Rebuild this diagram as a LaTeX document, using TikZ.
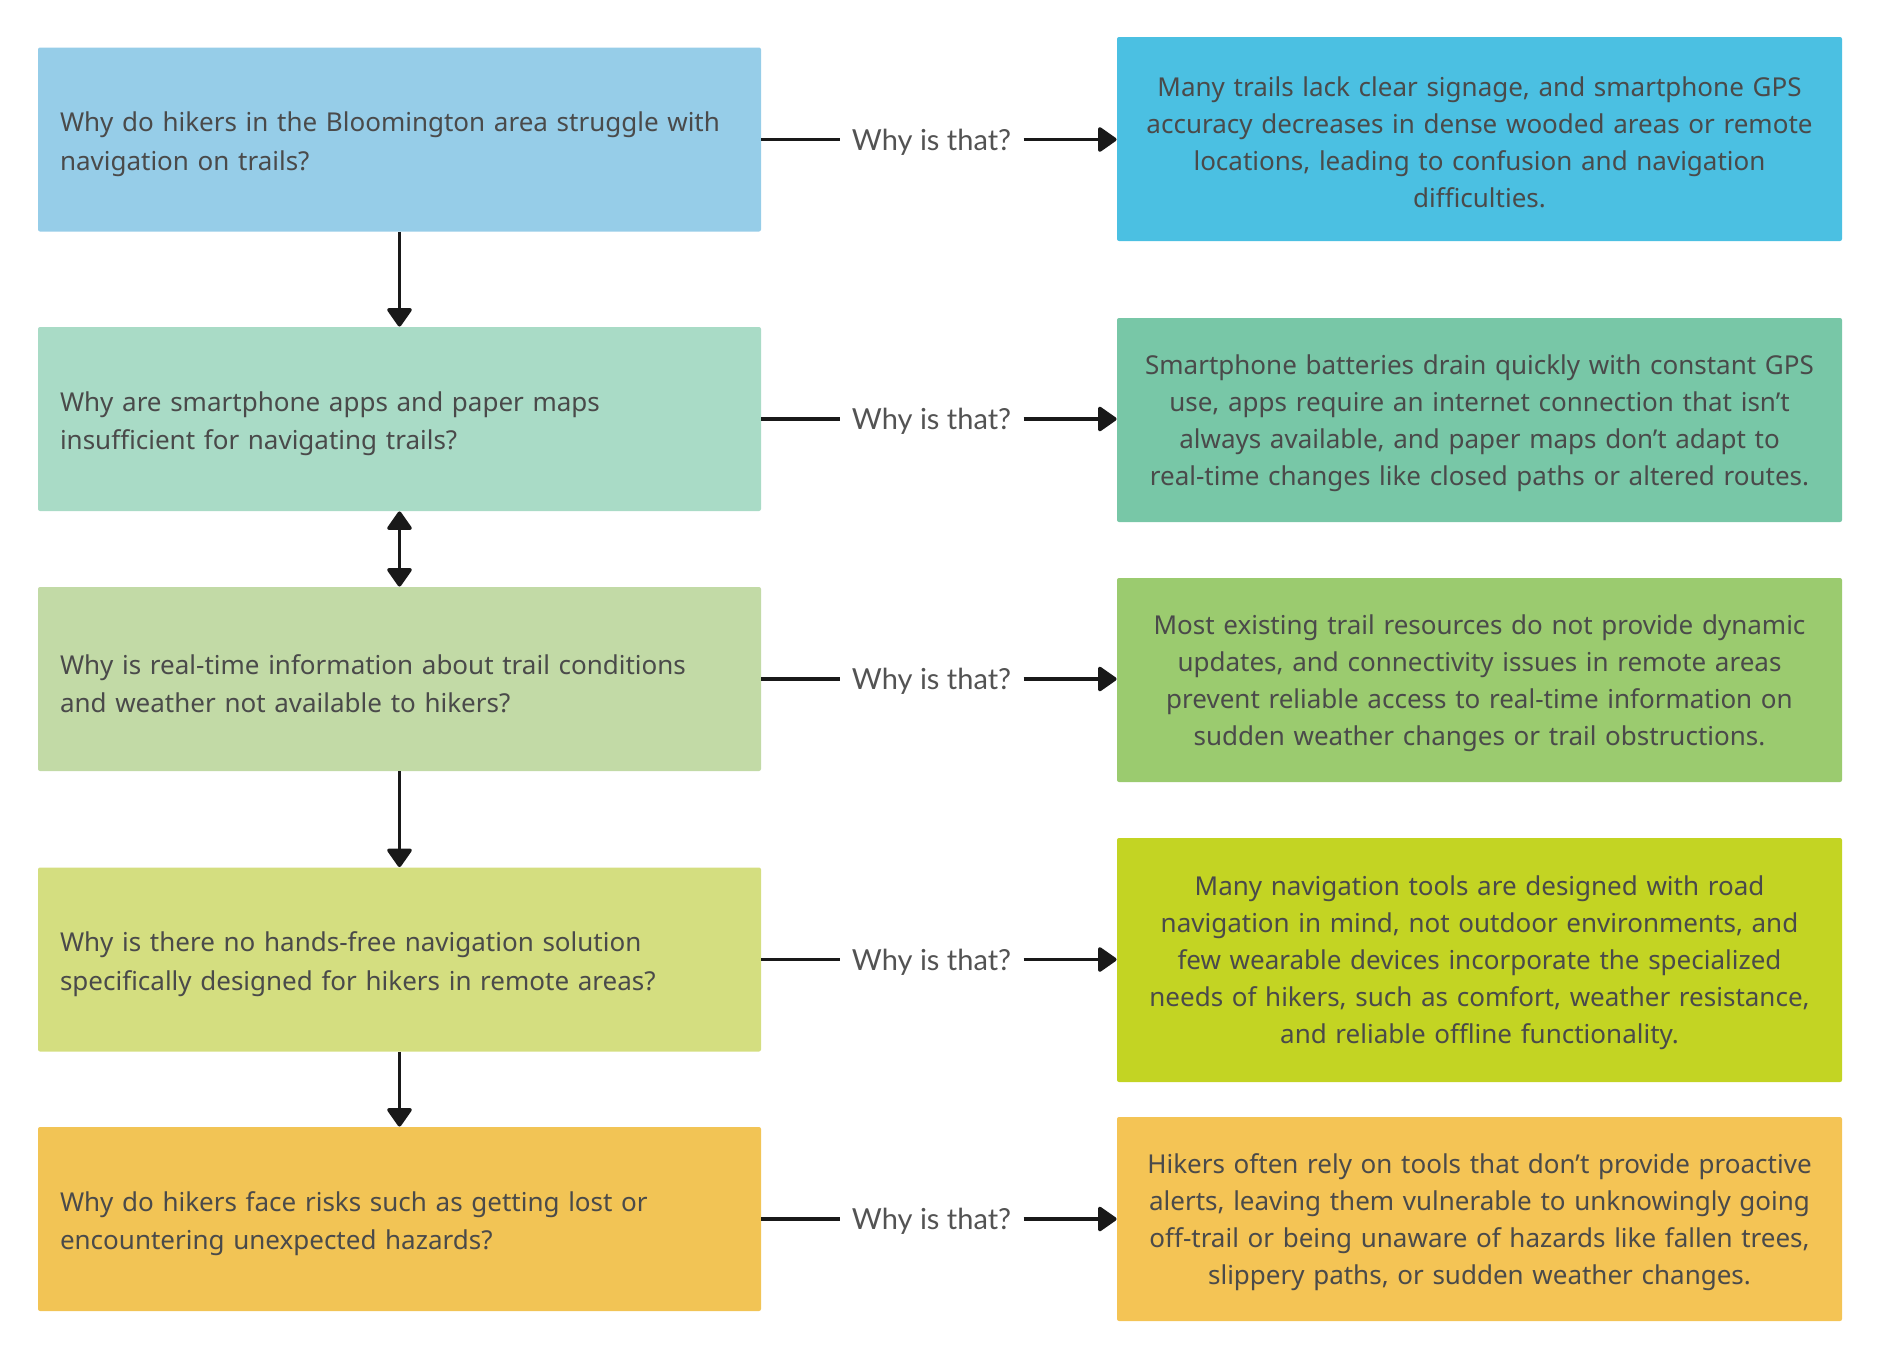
\documentclass[tikz,border=0pt]{standalone}
\usepackage{fontspec}
\setmainfont{Noto Sans}
\newfontfamily\labelfont{Lato}
\usepackage{xcolor}
\usetikzlibrary{arrows.meta,positioning}
\definecolor{ink}{HTML}{4A4A4A}
\definecolor{qone}{HTML}{96CDE8}   \definecolor{aone}{HTML}{4BC0E2}
\definecolor{qtwo}{HTML}{A9DBC6}   \definecolor{atwo}{HTML}{78C7A7}
\definecolor{qthree}{HTML}{C2DAA6} \definecolor{athree}{HTML}{9BCB6F}
\definecolor{qfour}{HTML}{D4DE80}  \definecolor{afour}{HTML}{C3D423}
\definecolor{qfive}{HTML}{F2C455}  \definecolor{afive}{HTML}{F4C455}

\begin{document}
\begin{tikzpicture}[x=0.5pt, y=-0.5pt, text=ink,
  why/.style={rounded corners=1pt, align=left, text width=339.5pt, inner xsep=11pt, inner ysep=0pt,
    minimum height=92pt, font=\fontsize{13}{19.2}\selectfont, execute at begin node={\rule{0pt}{14.5pt}}},
  because/.style={rounded corners=1pt, align=center, text width=350pt, inner xsep=6.25pt, inner ysep=0pt,
    minimum height=102pt, font=\fontsize{13}{18.5}\selectfont, execute at begin node={\rule{0pt}{13pt}}},
  ask/.style={inner xsep=6pt, inner ysep=2pt, text depth=0pt, font=\labelfont\fontsize{14.5}{17}\selectfont, text=ink!95!white},
  link/.style={line width=1.8pt, draw=black!90},
  arr/.style={link, -{Triangle[width=13.5pt, length=10pt, round]}},
  both/.style={link, {Triangle[width=13.5pt, length=10pt, round]}-{Triangle[width=13.5pt, length=10pt, round]}}]
  \useasboundingbox (0,0) rectangle (1880,1360);
  % questions on the left
  \node[why, fill=qone] (q1) at (399.5,139.5) {Why do hikers in the Bloomington area struggle with\\navigation on trails?};
  \node[why, fill=qtwo] (q2) at (399.5,419) {Why are smartphone apps and paper maps\\insufficient for navigating trails?};
  \node[why, fill=qthree] (q3) at (399.5,679) {Why is real-time information about trail conditions\\and weather not available to hikers?};
  \node[why, fill=qfour] (q4) at (399.5,959.5) {Why is there no hands-free navigation solution\\specifically designed for hikers in remote areas?};
  \node[why, fill=qfive] (q5) at (399.5,1219) {Why do hikers face risks such as getting lost or\\encountering unexpected hazards?};
  % answers on the right
  \node[because, fill=aone] (a1) at (1479.5,139) {Many trails lack clear signage, and smartphone GPS\\accuracy decreases in dense wooded areas or remote\\locations, leading to confusion and navigation\\difficulties.};
  \node[because, fill=atwo] (a2) at (1479.5,420) {Smartphone batteries drain quickly with constant GPS\\use, apps require an internet connection that isn’t\\always available, and paper maps don’t adapt to\\real-time changes like closed paths or altered routes.};
  \node[because, fill=athree] (a3) at (1479.5,680) {Most existing trail resources do not provide dynamic\\updates, and connectivity issues in remote areas\\prevent reliable access to real-time information on\\sudden weather changes or trail obstructions.};
  \node[because, fill=afour, minimum height=122pt] (a4) at (1479.5,960) {Many navigation tools are designed with road\\navigation in mind, not outdoor environments, and\\few wearable devices incorporate the specialized\\needs of hikers, such as comfort, weather resistance,\\and reliable offline functionality.};
  \node[because, fill=afive] (a5) at (1479.5,1219) {Hikers often rely on tools that don’t provide proactive\\alerts, leaving them vulnerable to unknowingly going\\off-trail or being unaware of hazards like fallen trees,\\slippery paths, or sudden weather changes.};
  % "why is that?" links
  \node[ask] (w1) at (931.5,139.5) {Why is that?};
  \node[ask] (w2) at (931.5,419) {Why is that?};
  \node[ask] (w3) at (931.5,679) {Why is that?};
  \node[ask] (w4) at (931.5,959.5) {Why is that?};
  \node[ask] (w5) at (931.5,1219) {Why is that?};
  \draw[link] (q1) -- (w1); \draw[arr] (w1) -- (w1 -| a1.west);
  \draw[link] (q2) -- (w2); \draw[arr] (w2) -- (w2 -| a2.west);
  \draw[link] (q3) -- (w3); \draw[arr] (w3) -- (w3 -| a3.west);
  \draw[link] (q4) -- (w4); \draw[arr] (w4) -- (w4 -| a4.west);
  \draw[link] (q5) -- (w5); \draw[arr] (w5) -- (w5 -| a5.west);
  % chain of questions
  \draw[arr] (q1) -- (q2);
  \draw[both] (q2) -- (q3);
  \draw[arr] (q3) -- (q4);
  \draw[arr] (q4) -- (q5);
\end{tikzpicture}
\end{document}
